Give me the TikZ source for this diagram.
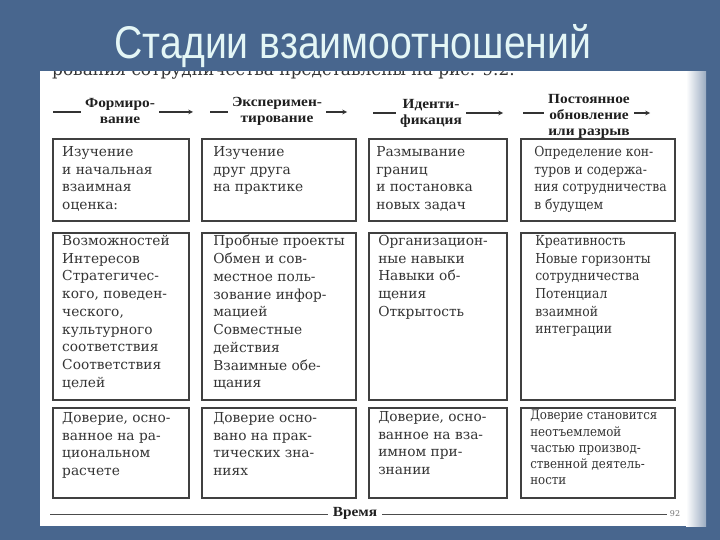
\documentclass[tikz,border=0pt]{standalone}
\usepackage{fontspec}
\setmainfont{DejaVu Serif}
\newfontfamily\titlefont[FakeStretch=0.855]{Liberation Sans}
\newfontfamily\headfont[FakeStretch=1.1]{Liberation Serif}
\newfontfamily\cellfont{DejaVu Serif}
\newfontfamily\narrowfont[FakeStretch=0.9]{DejaVu Serif}
\usetikzlibrary{arrows, positioning}

\definecolor{slidebg}{RGB}{72,102,142}
\definecolor{titlecol}{RGB}{228,246,246}
\definecolor{ink}{RGB}{52,52,52}
\definecolor{frame}{RGB}{64,64,64}

\begin{document}
\begin{tikzpicture}[
			x = 1bp, y = -1bp,
			> = stealth,
			cell/.style = {draw = frame, line width = 1.9bp, inner sep = 0pt},
			celltxt/.style = {anchor = north west, inner sep = 0pt, align = left, text = ink,
				font = \cellfont\fontsize{13.8}{17.8}\selectfont},
			narrowtxt/.style = {celltxt, font = \narrowfont\fontsize{13.8}{17.8}\selectfont},
			head/.style = {align = center, inner sep = 4bp, text = black!88,
				font = \headfont\bfseries\fontsize{14}{16}\selectfont},
			flow/.style = {line width = 1.1bp, draw = black!80}
			]
			
			% Slide and scanned page
			\useasboundingbox (0,0) rectangle (720,540);
			\fill[slidebg] (0,0) rectangle (720,540);
			\fill[white] (40,71) rectangle (700,526);
			\shade[left color = white, right color = slidebg!55] (686,71) rectangle (706,526);
			
			% Cut line of the page above the figure
			\node[anchor = base west, inner sep = 0pt, text = ink, font = \cellfont\fontsize{17}{17}\selectfont]
				(cutline) at (52,76) {рования сотрудничества представлены на рис. 9.2.};
			\fill[slidebg] (0,0) rectangle (720,71);
			
			\node[anchor = base, text = titlecol, font = \titlefont\fontsize{46}{46}\selectfont]
				(title) at (353,59) {Стадии взаимоотношений};
			
			% Define stages
			\node[head] (h1) at (120,111) {Формиро-\\вание};
			\node[head] (h2) at (277,111) {Эксперимен-\\тирование};
			\node[head] (h3) at (431,113) {Иденти-\\фикация};
			\node[head] (h4) at (589,116) {Постоянное\\обновление\\или разрыв};
			
			\coordinate (d1) at (53,112);  \coordinate (a1) at (193,112);
			\coordinate (d2) at (210,112); \coordinate (a2) at (347,112);
			\coordinate (d3) at (373,113); \coordinate (a3) at (503,113);
			\coordinate (d4) at (523,113); \coordinate (a4) at (650,113);
			
			\foreach \i in {1,...,4} {
				\draw[flow] (d\i) -- (d\i -| h\i.west);
				\draw[flow, ->] (h\i.east |- a\i) -- (a\i);
			}
			
			% Define cells
			\node[cell, minimum width = 136bp, minimum height = 82bp] (b11) at (121,180) {};
			\node[cell, minimum width = 154bp, minimum height = 82bp] (b12) at (279,180) {};
			\node[cell, minimum width = 138bp, minimum height = 82bp] (b13) at (438,180) {};
			\node[cell, minimum width = 154bp, minimum height = 82bp] (b14) at (598,180) {};
			
			\node[cell, minimum width = 136bp, minimum height = 167bp] (b21) at (121,316.5) {};
			\node[cell, minimum width = 154bp, minimum height = 167bp] (b22) at (279,316.5) {};
			\node[cell, minimum width = 138bp, minimum height = 167bp] (b23) at (438,316.5) {};
			\node[cell, minimum width = 154bp, minimum height = 167bp] (b24) at (598,316.5) {};
			
			\node[cell, minimum width = 136bp, minimum height = 90bp] (b31) at (121,453) {};
			\node[cell, minimum width = 154bp, minimum height = 90bp] (b32) at (279,453) {};
			\node[cell, minimum width = 138bp, minimum height = 90bp] (b33) at (438,453) {};
			\node[cell, minimum width = 154bp, minimum height = 90bp] (b34) at (598,453) {};
			
			% Cell texts
			\node[celltxt, below right = 8bp and 10bp of b11.north west] (t11)
				{Изучение\\и начальная\\взаимная\\оценка:};
			\node[celltxt, below right = 8bp and 12bp of b12.north west] (t12)
				{Изучение\\друг друга\\на практике};
			\node[celltxt, below right = 8bp and 8bp of b13.north west] (t13)
				{Размывание\\границ\\и постановка\\новых задач};
			\node[narrowtxt, below right = 8bp and 14bp of b14.north west] (t14)
				{Определение кон-\\туров и содержа-\\ния сотрудничества\\в будущем};
			
			\node[celltxt, below right = 3bp and 10bp of b21.north west] (t21)
				{Возможностей\\Интересов\\Стратегичес-\\кого, поведен-\\ческого,\\культурного\\соответствия\\Соответствия\\целей};
			\node[celltxt, below right = 3bp and 12bp of b22.north west] (t22)
				{Пробные проекты\\Обмен и сов-\\местное поль-\\зование инфор-\\мацией\\Совместные\\действия\\Взаимные обе-\\щания};
			\node[celltxt, below right = 3bp and 10bp of b23.north west] (t23)
				{Организацион-\\ные навыки\\Навыки об-\\щения\\Открытость};
			\node[narrowtxt, below right = 3bp and 15bp of b24.north west] (t24)
				{Креативность\\Новые горизонты\\сотрудничества\\Потенциал\\взаимной\\интеграции};
			
			\node[celltxt, below right = 5bp and 10bp of b31.north west] (t31)
				{Доверие, осно-\\ванное на ра-\\циональном\\расчете};
			\node[celltxt, below right = 5bp and 12bp of b32.north west] (t32)
				{Доверие осно-\\вано на прак-\\тических зна-\\ниях};
			\node[celltxt, below right = 4bp and 10bp of b33.north west] (t33)
				{Доверие, осно-\\ванное на вза-\\имном при-\\знании};
			\node[narrowtxt, font = \narrowfont\fontsize{13.2}{16.3}\selectfont,
				below right = 3bp and 10bp of b34.north west] (t34)
				{Доверие становится\\неотъемлемой\\частью производ-\\ственной деятель-\\ности};
			
			% Time axis
			\node[head, inner sep = 5bp] (time) at (355,513) {Время};
			\coordinate (t0) at (50,514);
			\coordinate (t1) at (667,514);
			\draw[line width = 0.9bp, black!70] (t0) -- (t0 -| time.west);
			\draw[line width = 0.9bp, black!70] (time.east |- t1) -- (t1);
			\node[inner sep = 1bp, text = black!55, font = \cellfont\fontsize{8}{8}\selectfont] (pg) at (675,514) {92};
			
		\end{tikzpicture}
\end{document}
